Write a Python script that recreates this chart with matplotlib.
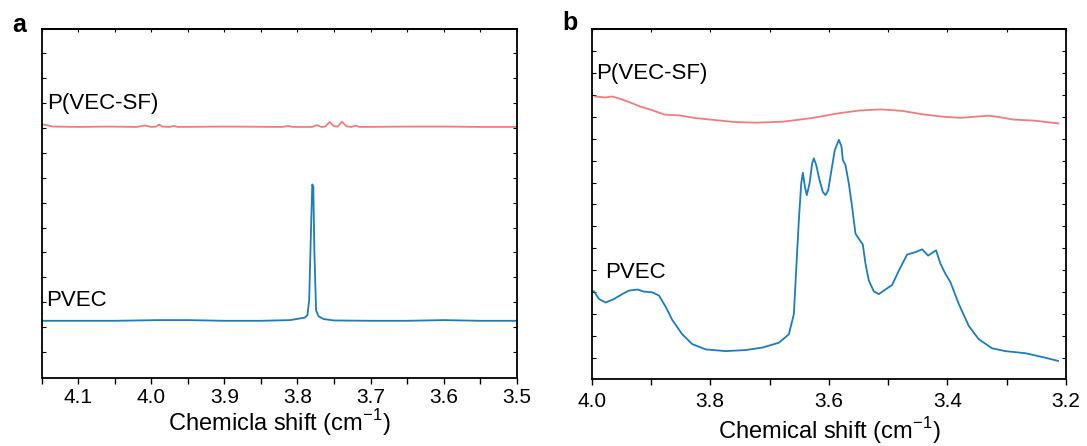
import numpy as np
import matplotlib
matplotlib.use("Agg")
import matplotlib.pyplot as plt
from matplotlib.ticker import MultipleLocator, NullFormatter

plt.rcParams['font.family'] = ['Liberation Sans', 'DejaVu Sans']

# -----------------------------
# Panel a data
# -----------------------------
a_x_pvec = [4.15, 4.10, 4.05, 3.99, 3.95, 3.90, 3.85, 3.81, 3.7901, 3.7863, 3.7840,
            3.7816, 3.7797, 3.7783, 3.7769, 3.7745, 3.7712, 3.7642, 3.75, 3.70,
            3.65, 3.60, 3.55, 3.50]
a_y_pvec = [16.4, 16.4, 16.4, 16.6, 16.6, 16.4, 16.4, 16.6, 17.3, 18.0, 22.3,
            41.4, 55.5, 54.8, 36.7, 19.4, 17.7, 16.9, 16.5, 16.4,
            16.4, 16.6, 16.4, 16.4]

a_x_sf = [4.15, 4.145, 4.135, 4.10, 4.06, 4.02, 4.0094, 4.000, 3.993, 3.9896, 3.985,
          3.975, 3.9693, 3.964, 3.90, 3.82, 3.8136, 3.806, 3.78, 3.7736, 3.767,
          3.762, 3.7561, 3.750, 3.745, 3.7391, 3.733, 3.726, 3.7208, 3.715, 3.65,
          3.60, 3.55, 3.50]
a_y_sf = [72.7, 72.6, 72.1, 72.0, 72.1, 72.0, 72.4, 72.0, 72.1, 72.7, 72.1,
          72.0, 72.3, 72.0, 72.1, 72.0, 72.3, 72.0, 72.0, 72.5, 72.0,
          72.1, 73.4, 72.2, 72.1, 73.5, 72.2, 72.0, 72.4, 72.0, 72.1,
          72.1, 72.0, 72.0]

# -----------------------------
# Panel b data
# -----------------------------
b_x_pvec = [3.9961, 3.9876, 3.9764, 3.9624, 3.9483, 3.9371, 3.9230, 3.9118, 3.8978,
            3.8865, 3.8753, 3.8640, 3.8472, 3.8303, 3.8079, 3.7742, 3.7404, 3.7124,
            3.6843, 3.6674, 3.6590, 3.6551, 3.6506, 3.6466, 3.6438, 3.6404, 3.6371,
            3.6326, 3.6281, 3.6253, 3.6213, 3.6157, 3.6101, 3.6056, 3.6011, 3.5955,
            3.5899, 3.5831, 3.5787, 3.5764, 3.5719, 3.5663, 3.5607, 3.5551, 3.5494,
            3.5427, 3.5382, 3.5326, 3.5242, 3.5157, 3.5073, 3.4933, 3.4820, 3.4680,
            3.4539, 3.4427, 3.4326, 3.4258, 3.4191, 3.4118, 3.4034, 3.3949, 3.3809,
            3.3640, 3.3472, 3.3247, 3.3022, 3.2685, 3.2348, 3.2135]
b_y_pvec = [25.1, 22.9, 21.9, 22.9, 24.3, 25.3, 25.6, 25.0, 24.8,
            23.9, 20.7, 16.9, 12.8, 10.0, 8.5, 8.0, 8.3, 9.0,
            10.4, 12.8, 18.6, 31.0, 45.4, 55.9, 59.0, 55.0, 52.6,
            55.9, 61.7, 63.1, 61.2, 56.9, 53.5, 52.6, 54.0, 59.8,
            65.5, 68.4, 66.5, 62.6, 61.2, 55.9, 49.2, 41.6, 40.1,
            38.5, 33.0, 28.2, 25.1, 24.3, 25.3, 26.9, 31.0, 35.6,
            36.3, 37.1, 35.3, 36.1, 36.8, 33.0, 30.1, 27.7, 21.5,
            15.2, 11.4, 8.8, 8.0, 7.4, 6.1, 5.2]

b_x_sf = [3.9941, 3.9765, 3.9659, 3.9530, 3.9354, 3.9178, 3.9001, 3.8767, 3.8532,
          3.8238, 3.7944, 3.7592, 3.7239, 3.6769, 3.6300, 3.5830, 3.5477, 3.5125,
          3.4773, 3.4420, 3.4068, 3.3774, 3.3539, 3.3304, 3.3128, 3.2893, 3.2540,
          3.2130]
b_y_sf = [80.8, 80.5, 80.8, 80.2, 79.1, 77.9, 77.0, 75.6, 75.4,
          74.6, 74.1, 73.5, 73.3, 73.6, 74.6, 76.0, 76.8, 77.1,
          76.7, 75.7, 75.0, 74.7, 75.0, 75.3, 74.9, 74.2, 73.9,
          73.1]

blue = '#1a7dc0'
red = '#f27c7c'

fig = plt.figure(figsize=(10.87, 4.46), dpi=100)
ax_a = fig.add_axes([0.0384, 0.1525, 0.4369, 0.7818])
ax_b = fig.add_axes([0.5443, 0.1500, 0.4364, 0.7843])


def style_axis(ax, xlim, major, minor, ytick_start, ytick_step, pad, labelpad, label):
    ax.set_xlim(*xlim)
    ax.set_ylim(0, 100)
    ax.xaxis.set_major_locator(MultipleLocator(major))
    ax.xaxis.set_minor_locator(MultipleLocator(minor))
    ax.set_yticks(np.arange(ytick_start, 100, ytick_step))
    ax.yaxis.set_major_formatter(NullFormatter())
    ax.tick_params(axis='x', which='major', direction='out', length=4.5, width=1.0,
                   labelsize=15, pad=pad)
    ax.tick_params(axis='x', which='minor', direction='out', length=4.5, width=1.0)
    ax.tick_params(axis='y', which='major', direction='in', length=3, width=0.8,
                   left=True, right=True)
    for s in ax.spines.values():
        s.set_linewidth(1.3)
    top = ax.secondary_xaxis('top')
    top.xaxis.set_major_locator(MultipleLocator(major))
    top.xaxis.set_minor_locator(MultipleLocator(minor))
    top.tick_params(axis='x', which='both', direction='in', length=2.5, width=0.8,
                    labeltop=False)
    top.spines['top'].set_linewidth(1.3)
    ax.set_xlabel(label, fontsize=17, labelpad=labelpad)


# -----------------------------
# Panel a
# -----------------------------
ax_a.plot(a_x_sf, a_y_sf, color=red, lw=1.3)
ax_a.plot(a_x_pvec, a_y_pvec, color=blue, lw=1.3)
style_axis(ax_a, (4.15, 3.5), 0.1, 0.05, 7.4, 7.15, 3, 0,
           'Chemicla shift (cm$^{\\mathregular{-1}}$)')
ax_a.text(4.143, 78.7, 'P(VEC-SF)', fontsize=16, va='center', ha='left')
ax_a.text(4.144, 22.2, 'PVEC', fontsize=16, va='center', ha='left')
fig.text(0.011, 0.945, 'a', fontsize=18, fontweight='bold', va='center')

# -----------------------------
# Panel b
# -----------------------------
ax_b.plot(b_x_sf, b_y_sf, color=red, lw=1.3)
ax_b.plot(b_x_pvec, b_y_pvec, color=blue, lw=1.3)
style_axis(ax_b, (4.0, 3.2), 0.2, 0.1, 6.1, 6.26, 5, 3,
           'Chemical shift (cm$^{\\mathregular{-1}}$)')
ax_b.text(3.993, 87.4, 'P(VEC-SF)', fontsize=16, va='center', ha='left')
ax_b.text(3.978, 30.5, 'PVEC', fontsize=16, va='center', ha='left')
fig.text(0.517, 0.948, 'b', fontsize=18, fontweight='bold', va='center')

fig.savefig('out.png', dpi=100)
